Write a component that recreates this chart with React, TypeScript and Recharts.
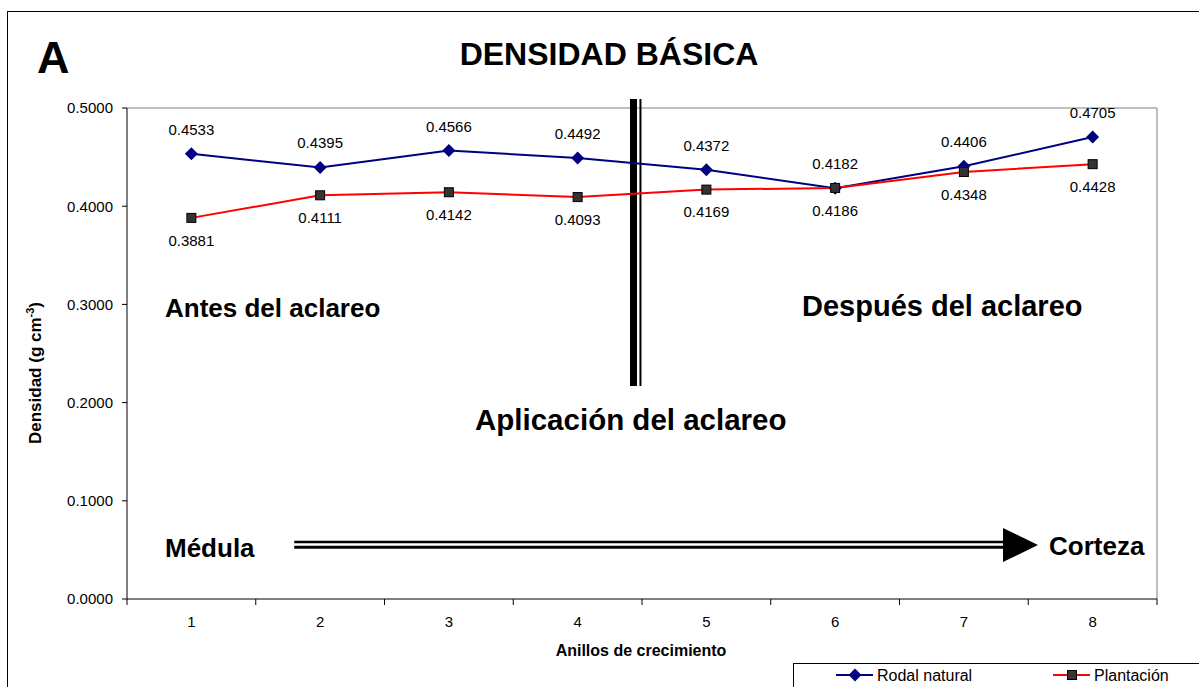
import React from "react";
import {
  Legend,
  LabelList,
  Line,
  LineChart,
  ReferenceDot,
  ReferenceLine,
  XAxis,
  YAxis,
} from "recharts";

// Basic density per growth ring, natural stand vs plantation
const rings = [1, 2, 3, 4, 5, 6, 7, 8];
const rodalNatural = [0.4533, 0.4395, 0.4566, 0.4492, 0.4372, 0.4182, 0.4406, 0.4705];
const plantacion = [0.3881, 0.4111, 0.4142, 0.4093, 0.4169, 0.4186, 0.4348, 0.4428];
const yTicks = [0, 0.1, 0.2, 0.3, 0.4, 0.5];
// ring numbers sit on whole values, tick marks on the half-way boundaries
const xTicks = [0.5, 1, 1.5, 2, 2.5, 3, 3.5, 4, 4.5, 5, 5.5, 6, 6.5, 7, 7.5, 8, 8.5];
const seriesOrder = ["rodal", "plantacion"];

// thinning marker (between ring 4 and 5) and pith -> bark arrow, in data units
const thinningX = [4.434, 4.488];
const thinningY = [0.2169, 0.5092];
const arrowX = [1.799, 7.304];
const arrowY = [0.058, 0.0527];
const arrowHeadY = 0.055;

const data = rings.map((r, i) => ({
  ring: r,
  rodal: rodalNatural[i],
  plantacion: plantacion[i],
}));

const NAVY = "#000080";
const RED = "#FF0000";
const FONT = "'Liberation Sans', Arial, Helvetica, sans-serif";

const Diamond = ({ cx, cy }: { cx: number; cy: number }) => (
  <polygon
    points={`${cx},${cy - 6.5} ${cx + 6.5},${cy} ${cx},${cy + 6.5} ${cx - 6.5},${cy}`}
    fill={NAVY}
  />
);

const Square = ({ cx, cy }: { cx: number; cy: number }) => (
  <rect x={cx - 4.5} y={cy - 4.5} width={9} height={9} fill="#333333" stroke="#000" strokeWidth={1} />
);

const RingTick = (props: any) => {
  const { x, y, payload } = props;
  const v = payload.value;
  if (Number.isInteger(v)) {
    return (
      <text x={x} y={y + 28} textAnchor="middle" fontSize={15} fill="#000">
        {v}
      </text>
    );
  }
  return <line x1={x} x2={x} y1={y} y2={y + 6} stroke="#000" strokeWidth={1} />;
};

const LegendBox = ({ payload }: any) => {
  const items = [...(payload ?? [])].sort(
    (a: any, b: any) => seriesOrder.indexOf(a.dataKey) - seriesOrder.indexOf(b.dataKey)
  );
  return (
    <svg width={420} height={40} style={{ display: "block" }}>
      {items.map((entry: any, i: number) => {
        const x0 = 42 + i * 217;
        const y = 11;
        return (
          <g key={entry.dataKey}>
            <line x1={x0} x2={x0 + 37} y1={y} y2={y} stroke={entry.color} strokeWidth={2} />
            {entry.dataKey === "rodal" ? <Diamond cx={x0 + 19} cy={y} /> : <Square cx={x0 + 19} cy={y} />}
            <text x={x0 + 41} y={y + 6} fontSize={16} fill="#000" fontFamily={FONT}>
              {entry.value}
            </text>
          </g>
        );
      })}
    </svg>
  );
};

const fmt = (v: any) => Number(v).toFixed(4);

export default function App() {
  return (
    <div
      style={{
        position: "absolute",
        left: 0,
        top: 0,
        width: 1199,
        height: 687,
        overflow: "hidden",
        background: "#fff",
        fontFamily: FONT,
      }}
    >
      <div
        style={{
          position: "absolute",
          left: 7,
          top: 11,
          width: 1400,
          height: 900,
          border: "1px solid #000",
        }}
      />
      <div style={{ position: "absolute", left: 0, top: 0 }}>
        <LineChart
          width={1199}
          height={687}
          data={data}
          margin={{ top: 108, right: 42, bottom: 58, left: 0 }}
        >
          <XAxis
            dataKey="ring"
            type="number"
            domain={[0.5, 8.5]}
            ticks={xTicks}
            interval={0}
            height={30}
            tickSize={0}
            tickMargin={0}
            tickLine={false}
            tick={<RingTick />}
            axisLine={{ stroke: "#000" }}
          />
          <YAxis
            domain={[0, 0.5]}
            ticks={yTicks}
            interval={0}
            width={127}
            tickFormatter={fmt}
            tickSize={5}
            tickMargin={9}
            tick={{ fontSize: 15, fill: "#000" }}
            tickLine={{ stroke: "#000" }}
            axisLine={{ stroke: "#000" }}
          />
          <ReferenceLine y={0.5} stroke="#808080" />
          <ReferenceLine x={8.5} stroke="#808080" />
          <ReferenceLine
            segment={[
              { x: thinningX[0], y: thinningY[0] },
              { x: thinningX[0], y: thinningY[1] },
            ]}
            stroke="#000"
            strokeWidth={7}
            ifOverflow="visible"
          />
          <ReferenceLine
            segment={[
              { x: thinningX[1], y: thinningY[0] },
              { x: thinningX[1], y: thinningY[1] },
            ]}
            stroke="#000"
            strokeWidth={2}
            ifOverflow="visible"
          />
          <ReferenceLine
            segment={[
              { x: arrowX[0], y: arrowY[0] },
              { x: arrowX[1], y: arrowY[0] },
            ]}
            stroke="#000"
            strokeWidth={2.5}
          />
          <ReferenceLine
            segment={[
              { x: arrowX[0], y: arrowY[1] },
              { x: arrowX[1], y: arrowY[1] },
            ]}
            stroke="#000"
            strokeWidth={3}
          />
          <ReferenceDot
            x={arrowX[1]}
            y={arrowHeadY}
            r={1}
            ifOverflow="visible"
            shape={(p: any) => (
              <polygon
                points={`${p.cx},${p.cy - 17} ${p.cx + 35},${p.cy} ${p.cx},${p.cy + 17}`}
                fill="#000"
              />
            )}
          />
          <Legend
            layout="horizontal"
            verticalAlign="middle"
            align="center"
            content={<LegendBox />}
            wrapperStyle={{
              left: 793,
              top: 663,
              width: 420,
              height: 40,
              border: "1px solid #000",
              background: "#fff",
              boxSizing: "border-box",
            }}
          />
          <Line
            type="linear"
            dataKey="rodal"
            name="Rodal natural"
            stroke={NAVY}
            strokeWidth={2}
            dot={(p: any) => <Diamond key={`d${p.index}`} cx={p.cx} cy={p.cy} />}
            activeDot={false}
            isAnimationActive={false}
          >
            <LabelList
              dataKey="rodal"
              position="top"
              offset={19}
              formatter={fmt}
              style={{ fontSize: 15, fill: "#000" }}
            />
          </Line>
          <Line
            type="linear"
            dataKey="plantacion"
            name="Plantación"
            stroke={RED}
            strokeWidth={2}
            dot={(p: any) => <Square key={`s${p.index}`} cx={p.cx} cy={p.cy} />}
            activeDot={false}
            isAnimationActive={false}
          >
            <LabelList
              dataKey="plantacion"
              position="bottom"
              offset={17}
              formatter={fmt}
              style={{ fontSize: 15, fill: "#000" }}
            />
          </Line>
        </LineChart>
      </div>
      <svg
        width={1199}
        height={687}
        style={{ position: "absolute", left: 0, top: 0, pointerEvents: "none" }}
        fontFamily={FONT}
        fontWeight="bold"
        fill="#000"
      >
        <text x={37} y={73} fontSize={45}>A</text>
        <text x={609} y={65} fontSize={32} textAnchor="middle">DENSIDAD BÁSICA</text>
        <text x={165} y={317} fontSize={26}>Antes del aclareo</text>
        <text x={802} y={316} fontSize={29}>Después del aclareo</text>
        <text x={475} y={430} fontSize={29.5}>Aplicación del aclareo</text>
        <text x={165} y={557} fontSize={26}>Médula</text>
        <text x={1049} y={555} fontSize={26}>Corteza</text>
        <text x={641} y={656} fontSize={16} textAnchor="middle">Anillos de crecimiento</text>
        <text x={41} y={373} fontSize={17} textAnchor="middle" transform="rotate(-90 41 373)">
          Densidad (g cm
          <tspan fontSize={11} dy={-7}>-3</tspan>
          <tspan dy={7}>)</tspan>
        </text>
      </svg>
    </div>
  );
}
